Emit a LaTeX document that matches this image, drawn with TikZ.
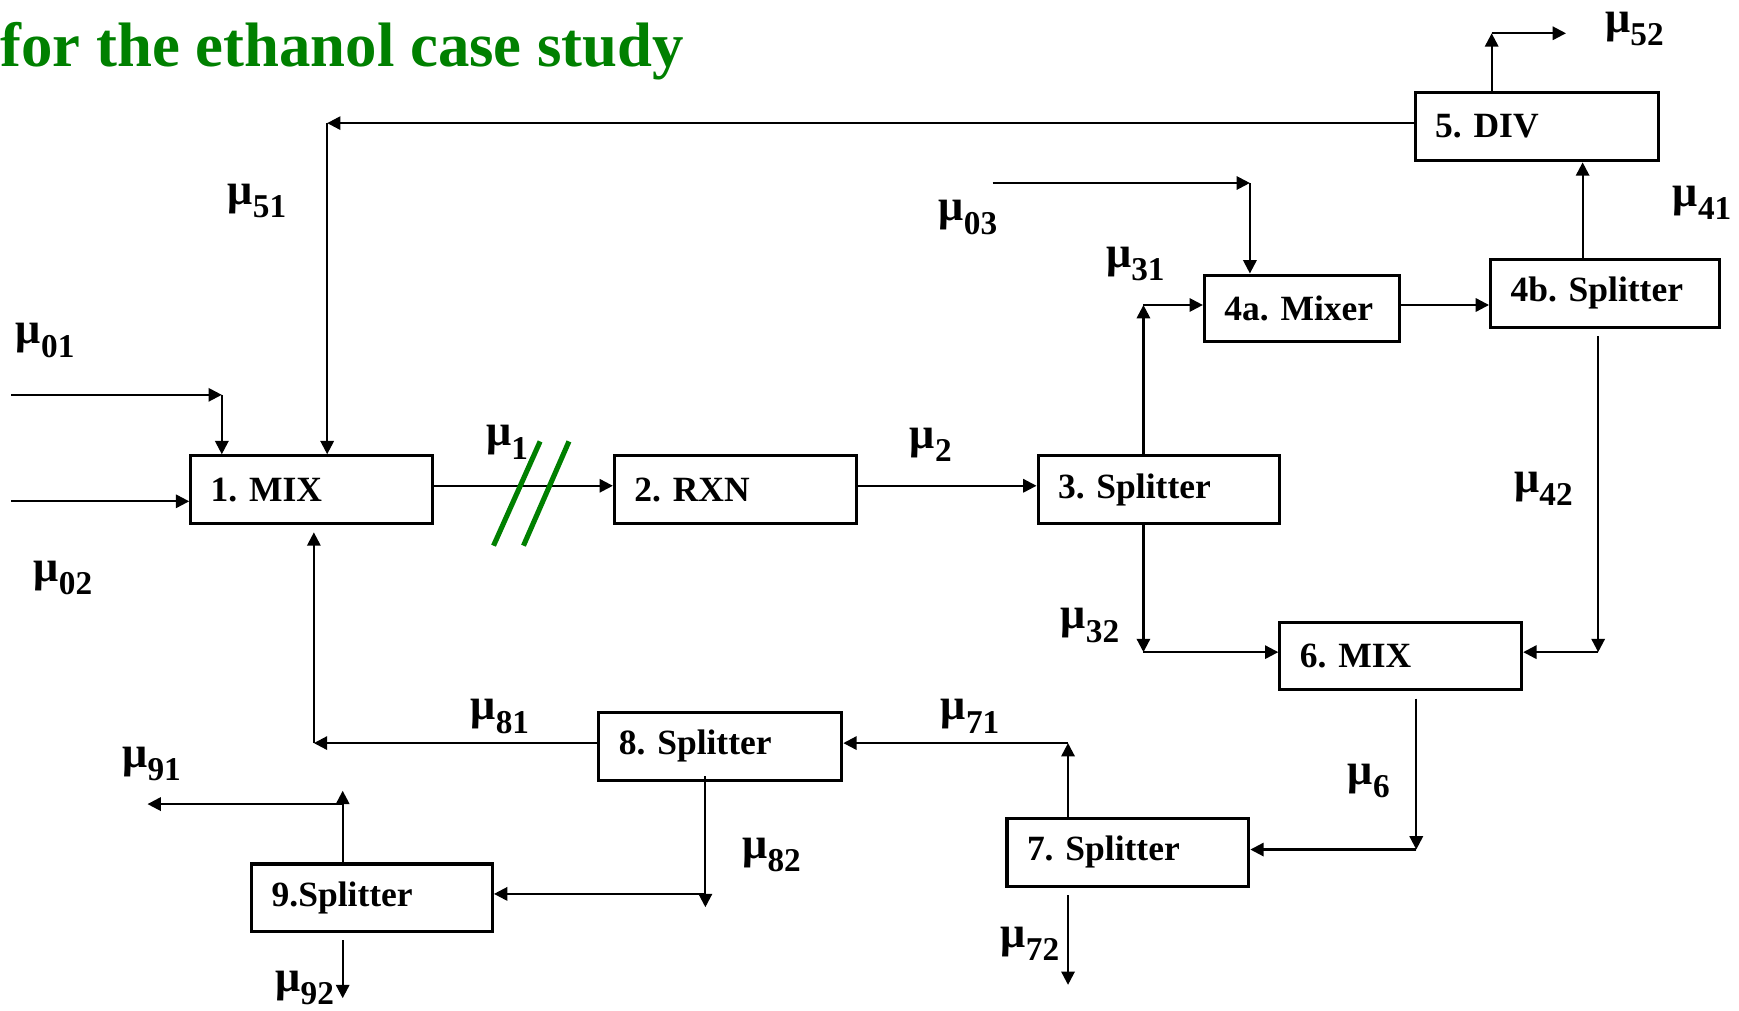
\documentclass[tikz,border=0pt]{standalone}
\usepackage{fontspec}
\setmainfont{Liberation Serif}
\usetikzlibrary{arrows.meta}
\definecolor{titlegreen}{RGB}{0,128,0}
\newcommand{\mulb}[1]{{\fontsize{20}{20}\selectfont μ}\raisebox{-6pt}{#1}}
\frenchspacing
\begin{document}
\begin{tikzpicture}[x=0.5pt,y=-0.5pt,
  box/.style={draw, line width=1.4pt, minimum height=30.5pt, inner xsep=9pt, inner ysep=0pt,
    align=left, font=\bfseries\fontsize{16}{16}\selectfont},
  arr/.style={-{Triangle[length=6pt,width=6pt]}, line width=1pt},
  lbl/.style={anchor=base west, inner sep=0pt, font=\bfseries\fontsize{15}{15}\selectfont},
  slash/.style={titlegreen, line width=2.3pt}]
\useasboundingbox (0,0) rectangle (1568,911);
\fill[white] (0,0) rectangle (1568,911);

% title
\node[anchor=base west, inner sep=0pt, text=titlegreen, font=\bfseries\fontsize{28.3}{28.3}\selectfont] (title) at (0,60) {for the ethanol case study};

% boxes
\node[box, text width=91pt] (b1) at (281,441.5) {1. MIX};
\node[box, text width=91pt] (b2) at (663,441.5) {2. RXN};
\node[box, text width=91pt] (b3) at (1045,441.5) {3. Splitter};
\node[box, text width=70pt, minimum height=30pt] (b4a) at (1174,278) {4a. Mixer};
\node[box, text width=85pt] (b4b) at (1447,264.5) {4b. Splitter};
\node[box, text width=91.5pt, minimum height=31pt] (b5) at (1385.5,114) {5. DIV};
\node[box, text width=91pt] (b6) at (1263,591.5) {6. MIX};
\node[box, text width=91pt] (b7) at (1017,768.5) {7. Splitter};
\node[box, text width=91.5pt] (b8) at (649.5,673) {8. Splitter};
\node[box, text width=90.5pt] (b9) at (335.5,809.5) {9.Splitter};

% coordinates
\coordinate (s01) at (10,356);
\coordinate (c01) at (200,356);
\coordinate (s02) at (10,452);
\coordinate (c51) at (295,111);
\coordinate (h12) at (400,438);
\coordinate (c31) at (1031,275);
\coordinate (s03) at (895,165);
\coordinate (c03) at (1127,165);
\coordinate (h44) at (1300,275);
\coordinate (c41) at (1427,200);
\coordinate (c52) at (1345,30);
\coordinate (e52) at (1412,30);
\coordinate (s42) at (1441,303);
\coordinate (c42) at (1441,588);
\coordinate (c32) at (1031,588);
\coordinate (s6) at (1277,630);
\coordinate (c6) at (1277,766);
\coordinate (c71) at (963,670);
\coordinate (s72) at (963,807);
\coordinate (e72) at (963,888);
\coordinate (c81) at (283,670);
\coordinate (e81) at (283,480);
\coordinate (s82) at (636,700);
\coordinate (e82) at (636,818);
\coordinate (c82) at (636,806);
\coordinate (e91) at (309,713);
\coordinate (c91) at (309,725);
\coordinate (t91) at (133,725);
\coordinate (s92) at (309,848);
\coordinate (e92) at (309,900);
\coordinate (sl1a) at (445,492);
\coordinate (sl1b) at (487,398);
\coordinate (sl2a) at (472,492);
\coordinate (sl2b) at (513,398);

% connectors
\draw[arr] (s01) -- (c01);
\draw[arr] (c01) -- (c01 |- b1.north);
\draw[arr] (s02) -- (s02 -| b1.west);
\draw[arr] (c51 -| b5.west) -- (c51);
\draw[arr] (c51) -- (c51 |- b1.north);
\draw[arr] (h12 -| b1.east) -- (h12 -| b2.west);
\draw[slash] (sl1a) -- (sl1b);
\draw[slash] (sl2a) -- (sl2b);
\draw[arr] (h12 -| b2.east) -- (h12 -| b3.west);
\draw[arr] (c31 |- b3.north) -- (c31);
\draw[arr] (c31) -- (c31 -| b4a.west);
\draw[arr] (s03) -- (c03);
\draw[arr] (c03) -- (c03 |- b4a.north);
\draw[arr] (h44 -| b4a.east) -- (h44 -| b4b.west);
\draw[arr] (c41 |- b4b.north) -- (c41 |- b5.south);
\draw[arr] (c52 |- b5.north) -- (c52);
\draw[arr] (c52) -- (e52);
\draw[arr] (s42) -- (c42);
\draw[arr] (c42) -- (c42 -| b6.east);
\draw[arr] (c32 |- b3.south) -- (c32);
\draw[arr] (c32) -- (c32 -| b6.west);
\draw[arr] (s6) -- (c6);
\draw[arr] (c6) -- (c6 -| b7.east);
\draw[arr] (c71 |- b7.north) -- (c71);
\draw[arr] (c71) -- (c71 -| b8.east);
\draw[arr] (s72) -- (e72);
\draw[arr] (c81 -| b8.west) -- (c81);
\draw[arr] (c81) -- (e81);
\draw[arr] (s82) -- (e82);
\draw[arr] (c82) -- (c82 -| b9.east);
\draw[arr] (e91 |- b9.north) -- (e91);
\draw[arr] (c91) -- (t91);
\draw[arr] (s92) -- (e92);

% labels
\node[lbl] (l01) at (14,310) {\mulb{01}};
\node[lbl] (l02) at (30,524) {\mulb{02}};
\node[lbl] (l51) at (205,184) {\mulb{51}};
\node[lbl] (l1) at (438,402) {\mulb{1}};
\node[lbl] (l2) at (820,404) {\mulb{2}};
\node[lbl] (l03) at (846,199) {\mulb{03}};
\node[lbl] (l31) at (997,241) {\mulb{31}};
\node[lbl] (l41) at (1508,186) {\mulb{41}};
\node[lbl] (l52) at (1447,29) {\mulb{52}};
\node[lbl] (l42) at (1365,444) {\mulb{42}};
\node[lbl] (l32) at (956,567) {\mulb{32}};
\node[lbl] (l6) at (1215,707) {\mulb{6}};
\node[lbl] (l71) at (848,649) {\mulb{71}};
\node[lbl] (l72) at (902,854) {\mulb{72}};
\node[lbl] (l81) at (424,649) {\mulb{81}};
\node[lbl] (l82) at (669,774) {\mulb{82}};
\node[lbl] (l91) at (110,692) {\mulb{91}};
\node[lbl] (l92) at (248,894) {\mulb{92}};
\end{tikzpicture}
\end{document}
